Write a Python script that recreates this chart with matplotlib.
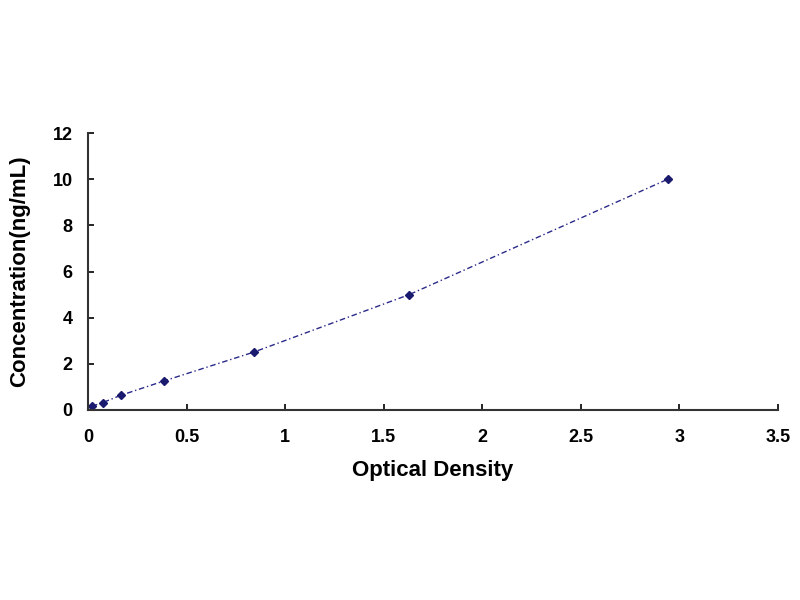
import matplotlib
matplotlib.use('Agg')
import matplotlib.pyplot as plt

# standard curve
od = [0.02, 0.075, 0.165, 0.385, 0.84, 1.63, 2.94]
conc = [0.156, 0.313, 0.625, 1.25, 2.5, 5.0, 10.0]

xticks = [0, 0.5, 1, 1.5, 2, 2.5, 3, 3.5]
xticklabels = ['0', '0.5', '1', '1.5', '2', '2.5', '3', '3.5']
yticks = [0, 2, 4, 6, 8, 10, 12]

plt.rcParams['font.family'] = ['Liberation Sans', 'DejaVu Sans']

fig = plt.figure(figsize=(8, 6), dpi=100)
ax = fig.add_axes([0.11, 0.317, 0.8625, 0.461])

ax.plot(od, conc, linestyle=(0, (4, 2, 1, 2)), color='#2a2a8a', linewidth=1.0,
        marker='D', markersize=4, markerfacecolor='#1a1a6e', markeredgecolor='#1a1a6e')

ax.set_xlim(0, 3.5)
ax.set_ylim(0, 12)
ax.set_xticks(xticks)
ax.set_xticklabels(xticklabels)
ax.set_yticks(yticks)
ax.tick_params(direction='in', length=4, width=1.2, labelsize=13)
ax.tick_params(axis='x', pad=14)
ax.tick_params(axis='y', pad=11)
for lab in ax.get_xticklabels() + ax.get_yticklabels():
    lab.set_fontweight('bold')

ax.spines['top'].set_visible(False)
ax.spines['right'].set_visible(False)
ax.spines['left'].set_linewidth(1.5)
ax.spines['bottom'].set_linewidth(1.5)
ax.spines['left'].set_color('#333333')
ax.spines['bottom'].set_color('#333333')

ax.set_xlabel('Optical Density', fontsize=16, fontweight='bold', labelpad=10)
ax.set_ylabel('Concentration(ng/mL)', fontsize=16, fontweight='bold', labelpad=16)

fig.savefig('out.png', dpi=100)
